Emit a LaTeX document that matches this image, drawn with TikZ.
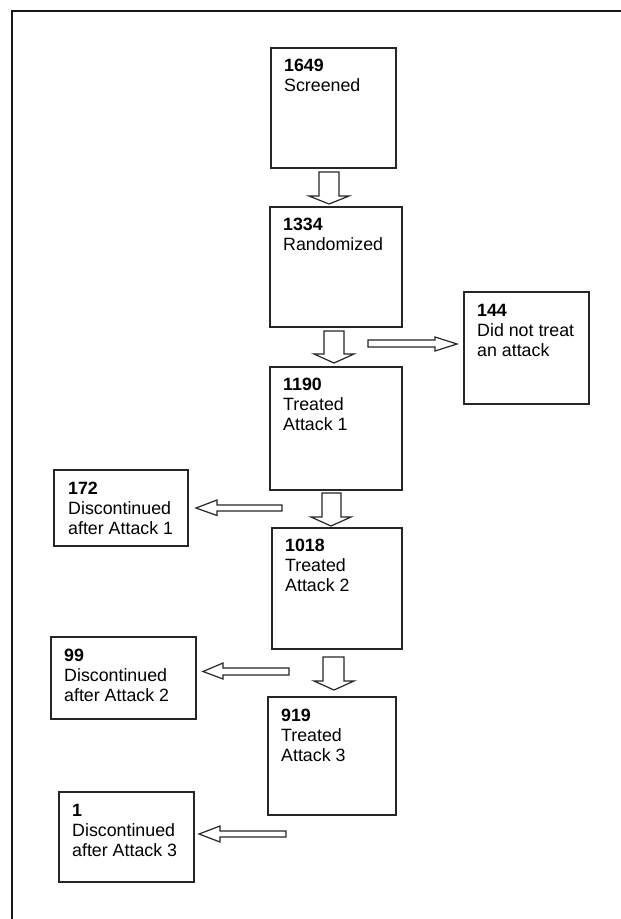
\documentclass[tikz,border=0pt]{standalone}
\usepackage{fontspec}
\setmainfont{Liberation Sans}
\begin{document}
\begin{tikzpicture}[x=1pt,y=-1pt,
  box/.style={draw=black!85, line width=1.4pt, fill=white, inner sep=0pt, outer sep=0pt, anchor=north west},
  txt/.style={align=left, inner sep=0pt, anchor=north west, font=\fontsize{17.8}{20}\selectfont},
  blockarrow/.style={draw=black!85, line width=1.2pt, fill=white, line join=miter}]
\useasboundingbox (0,0) rectangle (621,919);
\fill[white] (0,0) rectangle (621,919);
% outer frame (only left and top edges visible)
\draw[line width=2pt, black!90] (12,919) -- (12,11) -- (621,11);

% main column boxes
\node[box, minimum width=125pt, minimum height=120pt] (b1) at (271,48) {};
\node[box, minimum width=132pt, minimum height=120pt] (b2) at (270,207) {};
\node[box, minimum width=132pt, minimum height=123pt] (b3) at (270,367) {};
\node[box, minimum width=130pt, minimum height=121pt] (b4) at (272,528) {};
\node[box, minimum width=128pt, minimum height=118pt] (b5) at (268,697) {};
% side boxes
\node[box, minimum width=125pt, minimum height=112pt] (s1) at (464,292) {};
\node[box, minimum width=134pt, minimum height=76pt] (s2) at (54,470) {};
\node[box, minimum width=145pt, minimum height=82pt] (s3) at (51,637) {};
\node[box, minimum width=135pt, minimum height=90pt] (s4) at (59,792) {};

% texts
\node[txt] (t1) at ([shift={(13pt,-11pt)}]b1.north west) {\textbf{1649}\\Screened};
\node[txt] (t2) at ([shift={(13pt,-11pt)}]b2.north west) {\textbf{1334}\\Randomized};
\node[txt] (t3) at ([shift={(13pt,-11pt)}]b3.north west) {\textbf{1190}\\Treated\\Attack 1};
\node[txt] (t4) at ([shift={(13pt,-11pt)}]b4.north west) {\textbf{1018}\\Treated\\Attack 2};
\node[txt] (t5) at ([shift={(13pt,-12pt)}]b5.north west) {\textbf{919}\\Treated\\Attack 3};
\node[txt] (ts1) at ([shift={(13pt,-12pt)}]s1.north west) {\textbf{144}\\Did not treat\\an attack};
\node[txt] (ts2) at ([shift={(14pt,-12pt)}]s2.north west) {\textbf{172}\\Discontinued\\after Attack 1};
\node[txt] (ts3) at ([shift={(13pt,-12pt)}]s3.north west) {\textbf{99}\\Discontinued\\after Attack 2};
\node[txt] (ts4) at ([shift={(13pt,-12pt)}]s4.north west) {\textbf{1}\\Discontinued\\after Attack 3};

% downward block arrows
\draw[blockarrow] (319,172) -- (339,172) -- (339,196) -- (349,196) -- (329,204) -- (309,196) -- (319,196) -- cycle;
\draw[blockarrow] (324,331) -- (344,331) -- (344,354) -- (354,354) -- (334,363) -- (314,354) -- (324,354) -- cycle;
\draw[blockarrow] (322,493) -- (341,493) -- (341,517) -- (351,517) -- (331,526) -- (311,517) -- (322,517) -- cycle;
\draw[blockarrow] (323,657) -- (344,657) -- (344,681) -- (354,681) -- (334,690) -- (314,681) -- (323,681) -- cycle;

% right block arrow
\draw[blockarrow] (368,340) -- (435,340) -- (435,337) -- (457,344) -- (435,351) -- (435,347) -- (368,347) -- cycle;
% left block arrows
\draw[blockarrow] (282,505) -- (217,505) -- (217,500) -- (196,508) -- (217,515.5) -- (217,511) -- (282,511) -- cycle;
\draw[blockarrow] (289,668) -- (223,668) -- (223,663) -- (203,671.5) -- (223,679) -- (223,675) -- (289,675) -- cycle;
\draw[blockarrow] (286,831) -- (220,831) -- (220,826) -- (199,834) -- (220,842) -- (220,837) -- (286,837) -- cycle;
\end{tikzpicture}
\end{document}
